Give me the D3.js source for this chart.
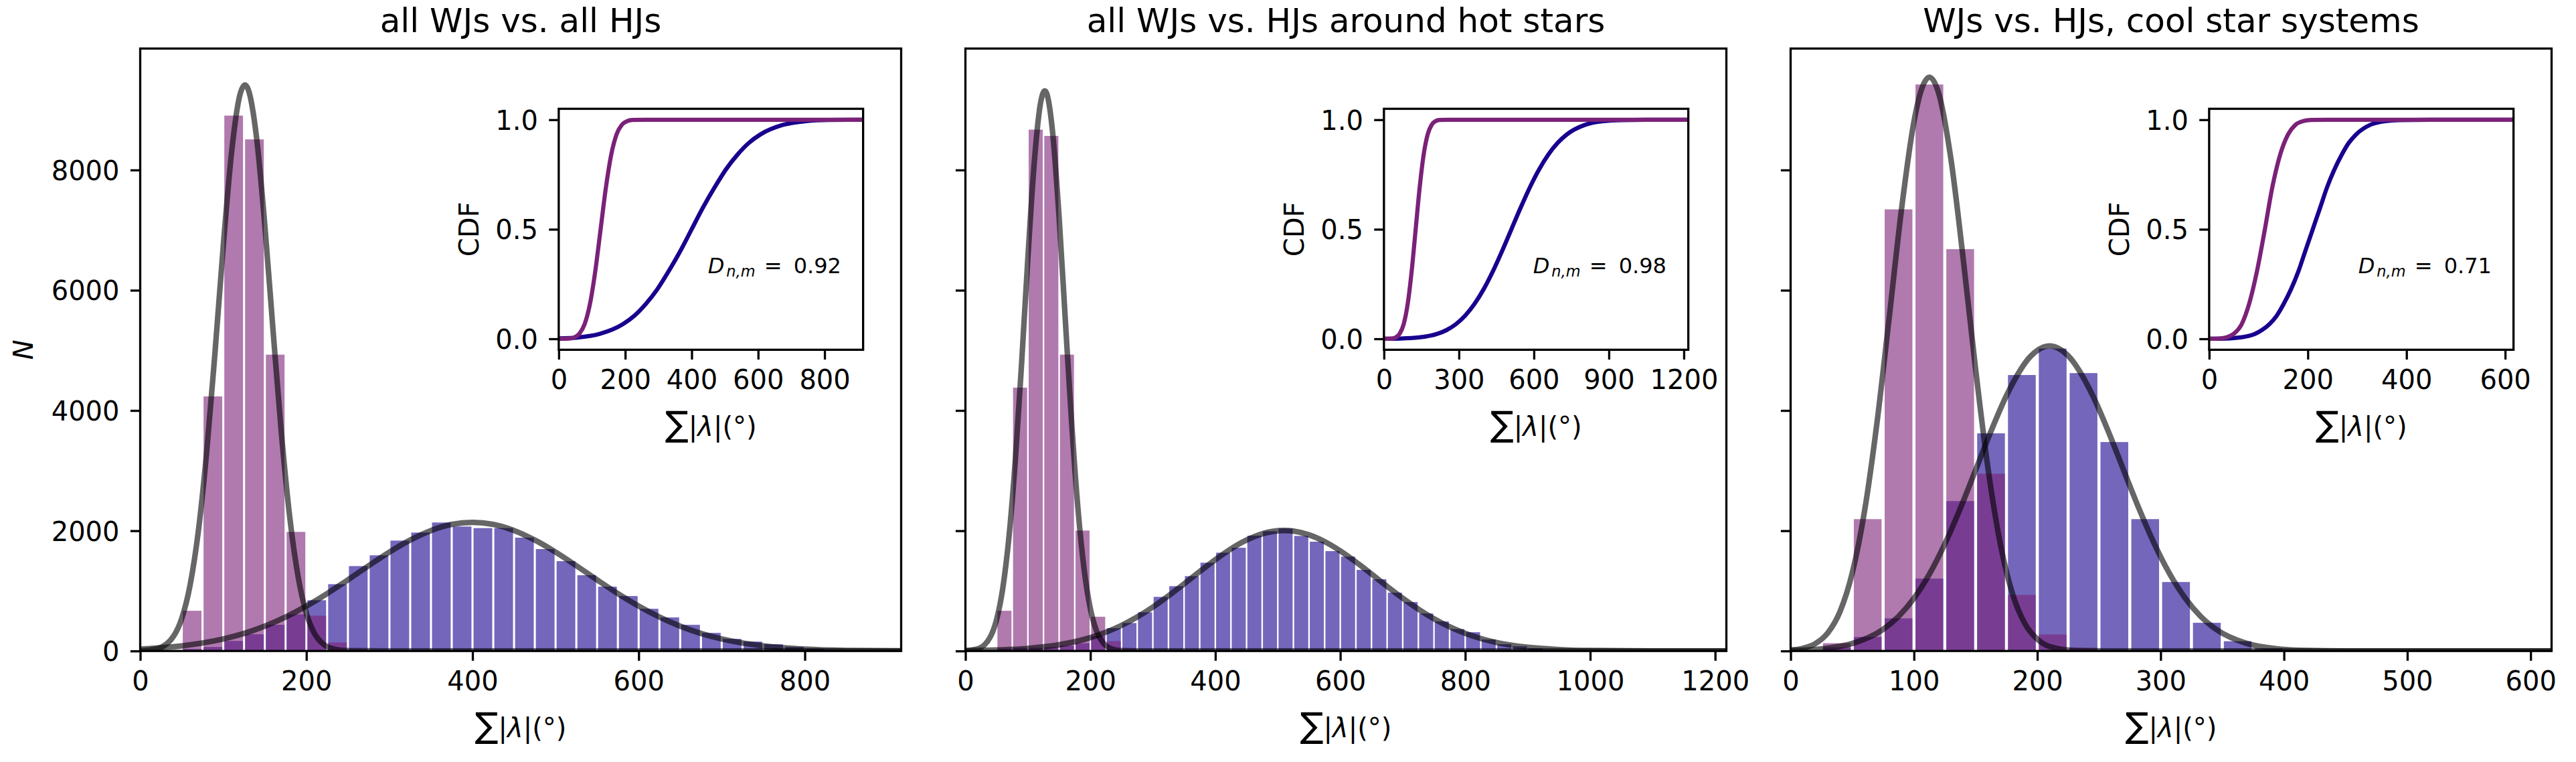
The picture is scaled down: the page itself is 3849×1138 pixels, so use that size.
<!DOCTYPE html>
<html>
<head>
<meta charset="utf-8">
<script src="https://cdn.jsdelivr.net/npm/d3@7"></script>
<style>
body { margin: 0; background: #fff; }
text { font-family: "DejaVu Sans", sans-serif; fill: #000; }
</style>
</head>
<body>
<script>
// three panels: WJ vs HJ sum|lambda| histograms, with CDF insets
var panelTitles = ["all WJs vs. all HJs", "all WJs vs. HJs around hot stars", "WJs vs. HJs, cool star systems"];
var binWidth = 25;
var xMax = [916, 1218, 617];
var yMax = 10020;
var yTicks = [0, 2000, 4000, 6000, 8000];
var xTicks = [[0, 200, 400, 600, 800], [0, 200, 400, 600, 800, 1000, 1200], [0, 100, 200, 300, 400, 500, 600]];
var insetXTicks = [[0, 200, 400, 600, 800], [0, 300, 600, 900, 1200], [0, 200, 400, 600]];
var cdfTicks = [0, 0.5, 1];
var ksValues = ["0.92", "0.98", "0.71"];

// counts per 25 deg bin, first bin starts at 0
var hjCounts1 = [0, 0, 669, 4234, 8905, 8509, 4929, 1981, 587, 141, 30];
var wjCounts1 = [0, 0, 33, 67, 167, 279, 435, 610, 844, 1111, 1412, 1591, 1836, 1970, 2137, 2070, 2044, 2044,
  1885, 1695, 1494, 1260, 1070, 914, 702, 558, 435, 301, 201, 156, 112, 67, 37, 15, 7, 4];
var hjCounts2 = [0, 0, 669, 4380, 8671, 8566, 4929, 2003, 569, 164, 40];
var wjCounts2 = [0, 10, 37, 50, 55, 63, 89, 130, 250, 379, 465, 643, 900, 1078, 1245, 1468, 1635, 1717, 1918,
  1992, 2037, 1914, 1818, 1661, 1569, 1349, 1193, 970, 814, 624, 491, 364, 312, 190, 112, 78, 45, 22, 7, 4];
var hjCounts3 = [0, 130, 2193, 7345, 9422, 6683, 2948, 933, 275, 50, 15];
var wjCounts3 = [0, 60, 234, 543, 1204, 2494, 3620, 4590, 5030, 4622, 3475, 2193, 1147, 469, 162, 40];

// fitted curves over the histograms
var hjFitX1 = [0, 20, 40, 50, 60, 70, 80, 90, 100, 110, 120, 126, 130, 140, 150, 160, 170, 180, 190, 200, 210, 220, 235, 250, 300, 916];
var hjFitY1 = [4, 36, 243, 541, 1092, 1996, 3308, 4960, 6740, 8295, 9248, 9414, 9340, 8545, 7080, 5315, 3615, 2226, 1243, 628, 287, 119, 26, 5, 0, 0];
var wjFitX1 = [0, 50, 100, 125, 150, 175, 200, 225, 250, 275, 300, 325, 350, 375, 400, 425, 450, 475, 500, 525, 550, 575, 600, 625, 650, 675, 700, 750, 800, 850, 916];
var wjFitY1 = [32, 85, 200, 292, 413, 564, 746, 955, 1183, 1418, 1645, 1845, 2004, 2105, 2140, 2105, 2004, 1845, 1645, 1418, 1183, 955, 746, 564, 413, 292, 200, 85, 32, 10, 2];
var hjFitX2 = [0, 20, 40, 50, 60, 70, 80, 90, 100, 110, 120, 127, 130, 140, 150, 160, 170, 180, 190, 200, 210, 220, 235, 250, 300, 1218];
var hjFitY2 = [4, 36, 237, 525, 1056, 1926, 3190, 4795, 6540, 8098, 9098, 9317, 9276, 8584, 7208, 5492, 3799, 2384, 1358, 702, 329, 140, 32, 6, 0, 0];
var wjFitX2 = [0, 50, 100, 150, 200, 250, 275, 300, 325, 350, 375, 400, 425, 450, 475, 510, 525, 550, 575, 600, 625, 650, 675, 700, 725, 750, 775, 800, 825, 850, 900, 950, 1000, 1100, 1218];
var wjFitY2 = [5, 16, 43, 103, 222, 427, 566, 730, 916, 1115, 1321, 1519, 1699, 1845, 1949, 2004, 1994, 1932, 1819, 1665, 1481, 1280, 1075, 877, 696, 536, 402, 292, 207, 142, 62, 24, 8, 1, 0];
var hjFitX3 = [0, 10, 20, 30, 40, 50, 60, 70, 80, 90, 100, 106, 112.6, 120, 130, 140, 150, 160, 170, 180, 190, 200, 215, 230, 260, 617];
var hjFitY3 = [15, 45, 122, 297, 653, 1300, 2335, 3792, 5558, 7360, 8803, 9333, 9543, 9281, 8180, 6513, 4685, 3043, 1785, 946, 453, 196, 46, 9, 0, 0];
var wjFitX3 = [0, 25, 50, 75, 87.5, 100, 112.5, 125, 137.5, 150, 162.5, 175, 195, 210, 225, 245, 257.5, 270, 282.5, 295, 307.5, 320, 332.5, 345, 370, 395, 420, 450, 617];
var wjFitY3 = [8, 35, 124, 360, 575, 877, 1277, 1778, 2367, 3009, 3657, 4247, 4911, 5074, 4911, 4247, 3657, 3009, 2367, 1778, 1277, 877, 575, 360, 124, 35, 8, 1, 0];

// CDF curves in the insets
var hjCdfX1 = [0, 30, 46, 62, 78, 94, 110, 126, 142, 158, 174, 190, 206, 222, 260, 916];
var hjCdfY1 = [0, 0.001, 0.006, 0.023, 0.067, 0.159, 0.309, 0.5, 0.691, 0.841, 0.933, 0.977, 0.994, 0.999, 1, 1];
var wjCdfX1 = [0, 56, 124, 193, 228, 262, 297, 331, 366, 400, 434, 469, 503, 538, 572, 607, 676, 745, 813, 916];
var wjCdfY1 = [0.002, 0.006, 0.023, 0.067, 0.106, 0.159, 0.227, 0.309, 0.401, 0.5, 0.599, 0.691, 0.773, 0.841, 0.894, 0.933, 0.977, 0.994, 0.999, 1];
var hjCdfX2 = [0, 31, 47, 63, 79, 95, 111, 127, 143, 159, 175, 191, 207, 223, 260, 1218];
var hjCdfY2 = [0, 0.001, 0.006, 0.023, 0.067, 0.159, 0.309, 0.5, 0.691, 0.841, 0.933, 0.977, 0.994, 0.999, 1, 1];
var wjCdfX2 = [0, 67, 140, 214, 251, 288, 325, 362, 399, 436, 473, 510, 547, 584, 621, 658, 695, 732, 806, 880, 953, 1050, 1218];
var wjCdfY2 = [0.0003, 0.0013, 0.0062, 0.0228, 0.0401, 0.0668, 0.1056, 0.1587, 0.2266, 0.3085, 0.4013, 0.5, 0.5987, 0.6915, 0.7734, 0.8413, 0.8944, 0.9332, 0.9772, 0.9938, 0.9987, 1, 1];
var hjCdfX3 = [0, 19, 34, 50, 66, 81, 97, 113, 128, 144, 160, 175, 191, 207, 240, 617];
var hjCdfY3 = [0.0002, 0.001, 0.006, 0.023, 0.067, 0.159, 0.309, 0.5, 0.691, 0.841, 0.933, 0.977, 0.994, 0.999, 1, 1];
var wjCdfX3 = [0, 34, 63, 93, 107, 122, 137, 151, 166, 181, 195, 210, 225, 239, 254, 269, 283, 298, 327, 357, 386, 450, 617];
var wjCdfY3 = [0.0002, 0.0013, 0.0062, 0.0228, 0.0401, 0.0668, 0.1056, 0.1587, 0.2266, 0.3085, 0.4013, 0.5, 0.5987, 0.6915, 0.7734, 0.8413, 0.8944, 0.9332, 0.9772, 0.9938, 0.9987, 1, 1];

var hjColor = "#7b2178", wjColor = "#17008e";

var panels = [
  { hj: hjCounts1, wj: wjCounts1, hjFit: [hjFitX1, hjFitY1], wjFit: [wjFitX1, wjFitY1], hjCdf: [hjCdfX1, hjCdfY1], wjCdf: [wjCdfX1, wjCdfY1] },
  { hj: hjCounts2, wj: wjCounts2, hjFit: [hjFitX2, hjFitY2], wjFit: [wjFitX2, wjFitY2], hjCdf: [hjCdfX2, hjCdfY2], wjCdf: [wjCdfX2, wjCdfY2] },
  { hj: hjCounts3, wj: wjCounts3, hjFit: [hjFitX3, hjFitY3], wjFit: [wjFitX3, wjFitY3], hjCdf: [hjCdfX3, hjCdfY3], wjCdf: [wjCdfX3, wjCdfY3] }
];

var panelLeft = [209.5, 1442.5, 2675.5];
var top0 = 72.5, W = 1137, H = 899.7;
var lw = 3.3, tickLen = 14.6;

var svg = d3.select("body").append("svg")
    .attr("width", 3849)
    .attr("height", 1138);

svg.append("rect").attr("width", 3849).attr("height", 1138).attr("fill", "#fff");

function zip(pair) {
  return pair[0].map(function (v, i) { return [v, pair[1][i]]; });
}

function sumLabel(sel, cx, yb) {
  var t = sel.append("text")
      .attr("x", cx)
      .attr("y", yb)
      .attr("text-anchor", "middle")
      .attr("font-size", 40);
  t.append("tspan").attr("font-size", 52).text("\u2211");
  t.append("tspan").text("|");
  t.append("tspan").attr("font-style", "italic").text("\u03bb");
  t.append("tspan").text("|(\u00b0)");
}

function styleAxis(a) {
  a.select(".domain").remove();
  a.selectAll(".tick line").attr("stroke", "#000").attr("stroke-width", lw);
  a.selectAll(".tick text").attr("font-size", 40).attr("font-family", "DejaVu Sans").attr("fill", "#000");
}

panels.forEach(function (p, i) {
  var g = svg.append("g").attr("transform", "translate(" + panelLeft[i] + "," + top0 + ")");
  var x = d3.scaleLinear().domain([0, xMax[i]]).range([0, W]);
  var y = d3.scaleLinear().domain([0, yMax]).range([H, 0]);

  svg.append("clipPath").attr("id", "clip" + i)
    .append("rect").attr("width", W).attr("height", H);
  var plot = g.append("g").attr("clip-path", "url(#clip" + i + ")");

  [[p.wj, wjColor], [p.hj, hjColor]].forEach(function (h) {
    plot.selectAll(null)
        .data(h[0])
        .enter()
        .append("rect")
        .attr("x", function (d, k) { return x(k * binWidth + binWidth * 0.05); })
        .attr("width", x(binWidth * 0.9) - x(0))
        .attr("y", function (d) { return y(d); })
        .attr("height", function (d) { return y(0) - y(d); })
        .attr("fill", h[1])
        .attr("fill-opacity", 0.6);
  });

  var fitLine = d3.line()
      .x(function (d) { return x(d[0]); })
      .y(function (d) { return y(d[1]); })
      .curve(d3.curveMonotoneX);

  [p.hjFit, p.wjFit].forEach(function (f) {
    plot.append("path")
        .attr("d", fitLine(zip(f)))
        .attr("fill", "none")
        .attr("stroke", "#000")
        .attr("stroke-opacity", 0.6)
        .attr("stroke-width", 8.3);
  });

  g.append("rect").attr("width", W).attr("height", H)
    .attr("fill", "none").attr("stroke", "#000").attr("stroke-width", lw);

  var xa = g.append("g").attr("transform", "translate(0," + H + ")")
      .call(d3.axisBottom(x).tickValues(xTicks[i]).tickSize(tickLen).tickPadding(16).tickFormat(d3.format("d")));
  styleAxis(xa);

  var ya = g.append("g")
      .call(d3.axisLeft(y).tickValues(yTicks).tickSize(tickLen).tickPadding(16.4).tickFormat(d3.format("d")));
  styleAxis(ya);
  ya.selectAll(".tick text").attr("dy", 14.5);
  if (i > 0) ya.selectAll(".tick text").remove();

  g.append("text")
      .attr("x", W / 2)
      .attr("y", -25)
      .attr("text-anchor", "middle")
      .attr("font-size", 50)
      .text(panelTitles[i]);

  sumLabel(g, W / 2, H + 129);

  // inset with the CDFs
  var iw = 0.4 * W, ih = 0.4 * H;
  var ig = g.append("g").attr("transform", "translate(" + (0.55 * W) + "," + (0.1 * H) + ")");
  var ix = d3.scaleLinear().domain([0, xMax[i]]).range([0, iw]);
  var iy = d3.scaleLinear().domain([-0.05, 1.05]).range([ih, 0]);

  ig.append("rect").attr("width", iw).attr("height", ih).attr("fill", "#fff");
  svg.append("clipPath").attr("id", "iclip" + i)
    .append("rect").attr("width", iw).attr("height", ih);
  var iplot = ig.append("g").attr("clip-path", "url(#iclip" + i + ")");

  var cdfLine = d3.line()
      .x(function (d) { return ix(d[0]); })
      .y(function (d) { return iy(d[1]); })
      .curve(d3.curveMonotoneX);

  [[p.wjCdf, wjColor], [p.hjCdf, hjColor]].forEach(function (c) {
    iplot.append("path")
        .attr("d", cdfLine(zip(c[0])))
        .attr("fill", "none")
        .attr("stroke", c[1])
        .attr("stroke-width", 6.25);
  });

  ig.append("rect").attr("width", iw).attr("height", ih)
    .attr("fill", "none").attr("stroke", "#000").attr("stroke-width", lw);

  var ixa = ig.append("g").attr("transform", "translate(0," + ih + ")")
      .call(d3.axisBottom(ix).tickValues(insetXTicks[i]).tickSize(tickLen).tickPadding(16).tickFormat(d3.format("d")));
  styleAxis(ixa);

  var iya = ig.append("g")
      .call(d3.axisLeft(iy).tickValues(cdfTicks).tickSize(tickLen).tickPadding(16.4).tickFormat(d3.format(".1f")));
  styleAxis(iya);
  iya.selectAll(".tick text").attr("dy", 14.5);

  ig.append("text")
      .attr("transform", "translate(-120," + (ih / 2) + ") rotate(-90)")
      .attr("text-anchor", "middle")
      .attr("font-size", 40)
      .text("CDF");

  sumLabel(ig, iw / 2, ih + 129);

  var tx = 0.49 * iw, ty = ih * (1 - 0.318);
  var kt = ig.append("text").attr("x", tx).attr("y", ty).attr("font-size", 32);
  kt.append("tspan").attr("font-style", "italic").text("D");
  kt.append("tspan").attr("font-style", "italic").attr("font-size", 22.4).attr("dx", 3).attr("dy", 5).text("n,m");
  kt.append("tspan").attr("x", tx + 84).attr("dy", -5).text("=");
  kt.append("tspan").attr("x", tx + 128).text(ksValues[i]);
});

svg.append("text")
    .attr("transform", "translate(49," + (top0 + H / 2) + ") rotate(-90)")
    .attr("text-anchor", "middle")
    .attr("font-size", 40)
    .attr("font-style", "italic")
    .text("N");
</script>
</body>
</html>
